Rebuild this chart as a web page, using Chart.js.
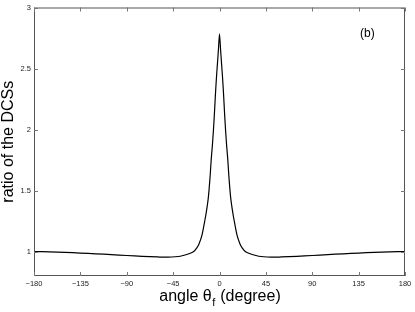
<!DOCTYPE html>
<html>
<head>
<meta charset="utf-8">
<script src="https://cdn.jsdelivr.net/npm/chart.js"></script>
<style>
  html, body { margin: 0; padding: 0; background: #fff; }
  #wrap { width: 415px; height: 312px; }
</style>
</head>
<body>
<div id="wrap"><canvas id="c" width="415" height="312"></canvas></div>
<script>
// Угол рассеяния (градусы) и отношение DCS
const angles = [-180, -165, -150, -135, -120, -105, -90, -75, -60, -50, -38, -29, -25, -22, -20, -17, -14, -12.5, -11, -10, -9, -8, -7, -6, -5, -4, -3, -2, -1,
    0, 1, 2, 3, 4, 5, 6, 7, 8, 9, 10, 11, 12.5, 14, 17, 20, 22, 25, 29, 38, 50, 60, 75, 90, 105, 120, 135, 150, 165, 180];
const ratio = [1.0, 0.998, 0.994, 0.988, 0.982, 0.975, 0.968, 0.961, 0.956, 0.954, 0.962, 0.984, 1.0, 1.03, 1.06, 1.135, 1.265, 1.34, 1.43, 1.52, 1.63, 1.76, 1.86, 1.98, 2.12, 2.28, 2.42, 2.54, 2.66,
    2.785, 2.66, 2.54, 2.42, 2.28, 2.12, 1.98, 1.86, 1.76, 1.63, 1.52, 1.43, 1.34, 1.265, 1.135, 1.06, 1.03, 1.0, 0.984, 0.962, 0.954, 0.956, 0.961, 0.968, 0.975, 0.982, 0.988, 0.994, 0.998, 1.0];

const xTicks = [-180, -135, -90, -45, 0, 45, 90, 135, 180];
const yTicks = [1, 1.5, 2, 2.5, 3];

const xTitle = ["angle \u03b8", "f", " (degree)"];
const yTitle = "ratio of the DCSs";
const panelLabel = "(b)";

const FONT = "'Liberation Sans', Arial, sans-serif";

// Рамка, внутренние засечки и подписи осей
const framePlugin = {
    id: 'frame',
    afterDraw(chart) {
        const ctx = chart.ctx;
        const a = chart.chartArea;
        const xs = chart.scales.x, ys = chart.scales.y;
        ctx.save();
        ctx.strokeStyle = '#555';
        ctx.lineWidth = 1;
        ctx.strokeRect(a.left + 0.5, a.top + 0.5, a.right - a.left - 1, a.bottom - a.top - 1);
        ctx.strokeStyle = '#777';
        ctx.beginPath();
        xTicks.forEach(t => {
            const px = Math.round(xs.getPixelForValue(t)) + 0.5;
            ctx.moveTo(px, a.bottom); ctx.lineTo(px, a.bottom - 4);
            ctx.moveTo(px, a.top); ctx.lineTo(px, a.top + 4);
        });
        yTicks.forEach(t => {
            const py = Math.round(ys.getPixelForValue(t)) + 0.5;
            ctx.moveTo(a.left, py); ctx.lineTo(a.left + 4, py);
            ctx.moveTo(a.right, py); ctx.lineTo(a.right - 4, py);
        });
        ctx.stroke();

        ctx.fillStyle = '#000';
        // подпись оси x с индексом f
        ctx.font = '16px ' + FONT;
        ctx.textBaseline = 'alphabetic';
        const w0 = ctx.measureText(xTitle[0]).width;
        ctx.font = '11px ' + FONT;
        const w1 = ctx.measureText(xTitle[1]).width;
        ctx.font = '16px ' + FONT;
        const w2 = ctx.measureText(xTitle[2]).width;
        let x0 = (a.left + a.right) / 2 - (w0 + w1 + w2) / 2;
        const base = 301;
        ctx.textAlign = 'left';
        ctx.fillText(xTitle[0], x0, base);
        ctx.font = '11px ' + FONT;
        ctx.fillText(xTitle[1], x0 + w0 + 0.5, base + 5);
        ctx.font = '16px ' + FONT;
        ctx.fillText(xTitle[2], x0 + w0 + w1 + 1, base);

        // подпись оси y
        ctx.save();
        ctx.translate(13, (a.top + a.bottom) / 2);
        ctx.rotate(-Math.PI / 2);
        ctx.textAlign = 'center';
        ctx.fillText(yTitle, 0, 0);
        ctx.restore();

        // метка панели
        ctx.font = '12px ' + FONT;
        ctx.textAlign = 'left';
        ctx.fillText(panelLabel, 360, 37);
        ctx.restore();
    }
};

new Chart(document.getElementById('c').getContext('2d'), {
    type: 'line',
    data: {
        datasets: [{
            data: angles.map((a, i) => ({x: a, y: ratio[i]})),
            borderColor: '#000',
            borderWidth: 1.2,
            pointRadius: 0,
            tension: 0.25,
            fill: false
        }]
    },
    options: {
        responsive: false,
        animation: false,
        layout: {padding: {top: 7, right: 10, left: 0, bottom: 0}},
        plugins: {
            legend: {display: false},
            tooltip: {enabled: false}
        },
        scales: {
            x: {
                type: 'linear',
                min: -180, max: 180,
                afterBuildTicks: s => { s.ticks = xTicks.map(v => ({value: v})); },
                afterFit: s => { s.height = 36; },
                ticks: {
                    font: {size: 7.5, family: FONT},
                    color: '#222',
                    padding: 3,
                    maxRotation: 0,
                    callback: v => v < 0 ? '\u2212' + (-v) : String(v)
                },
                grid: {display: false, drawTicks: false},
                border: {display: false}
            },
            y: {
                min: 0.8, max: 3,
                afterBuildTicks: s => { s.ticks = yTicks.map(v => ({value: v})); },
                afterFit: s => { s.width = 34; },
                ticks: {
                    font: {size: 7.5, family: FONT},
                    color: '#222',
                    padding: 3,
                    callback: v => String(v)
                },
                grid: {display: false, drawTicks: false},
                border: {display: false}
            }
        }
    },
    plugins: [framePlugin]
});
</script>
</body>
</html>
